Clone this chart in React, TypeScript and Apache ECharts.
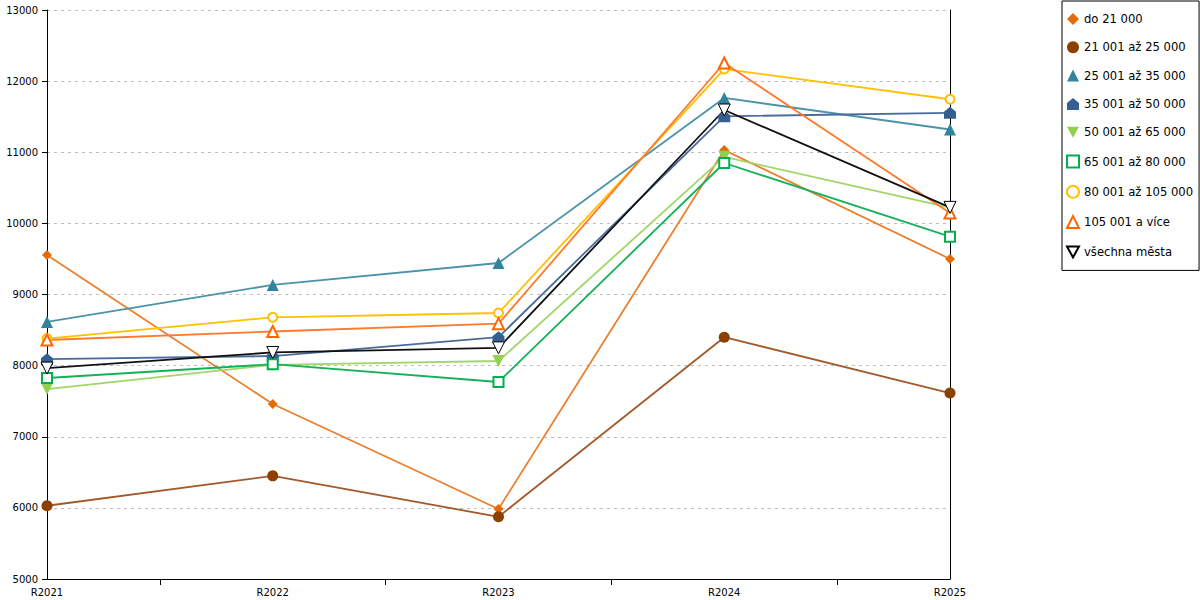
import React, { useEffect, useRef } from "react";
import * as echarts from "echarts";

const categories = ["R2021", "R2022", "R2023", "R2024", "R2025"];
const yTicks = { min: 5000, max: 13000, interval: 1000 };

const do21 = [9555, 7460, 5985, 11030, 9500];
const s21to25 = [6030, 6450, 5875, 8400, 7615];
const s25to35 = [8615, 9134, 9443, 11763, 11320];
const s35to50 = [8090, 8135, 8400, 11505, 11555];
const s50to65 = [7671, 8010, 8065, 10935, 10220];
const s65to80 = [7826, 8020, 7770, 10849, 9813];
const s80to105 = [8380, 8679, 8740, 12170, 11745];
const s105plus = [8360, 8480, 8590, 12255, 10145];
const allCities = [7965, 8185, 8250, 11594, 10225];

const HOUSE = "path://M0,-6 L6,-1 L6,6 L-6,6 L-6,-1 Z";
const INV_TRI = "path://M-6,-5 L6,-5 L0,6 Z";

const seriesDefs = [
  { name: "do 21 000", data: do21, symbol: "diamond", size: 10, line: "#eb7f2d", color: "#e36c09" },
  { name: "21 001 až 25 000", data: s21to25, symbol: "circle", size: 11, line: "#a35a2a", color: "#8b4000" },
  { name: "25 001 až 35 000", data: s25to35, symbol: "triangle", size: 12, line: "#4a93a8", color: "#31849b" },
  { name: "35 001 až 50 000", data: s35to50, symbol: HOUSE, size: 12, line: "#4a6c9c", color: "#355f91" },
  { name: "50 001 až 65 000", data: s50to65, symbol: INV_TRI, size: 12, line: "#a2d66a", color: "#92d050" },
  { name: "65 001 až 80 000", data: s65to80, symbol: "emptyRect", size: 10, line: "#16b05a", color: "#00b050" },
  { name: "80 001 až 105 000", data: s80to105, symbol: "emptyCircle", size: 9, line: "#ffc000", color: "#ffc000" },
  { name: "105 001 a více", data: s105plus, symbol: "emptyTriangle", size: 11, line: "#ff7a2a", color: "#ff6600" },
  { name: "všechna města", data: allCities, symbol: INV_TRI, size: 12, line: "#111111", color: "#ffffff", border: "#000000" },
];

export default function App() {
  const ref = useRef<HTMLDivElement>(null);
  useEffect(() => {
    document.body.style.margin = "0";
    if (!ref.current) return;
    const chart = echarts.init(ref.current, undefined, { renderer: "svg" });
    const axisData: string[] = [];
    categories.forEach((c, i) => {
      axisData.push(c);
      if (i < categories.length - 1) axisData.push("");
    });
    const series = seriesDefs.map((s) => ({
      name: s.name,
      type: "line",
      data: s.data.map((v, i) => [i * 2, v]),
      symbol: s.symbol,
      symbolSize: s.size,
      showAllSymbol: true,
      lineStyle: { color: s.line, width: 1.8 },
      itemStyle: s.border
        ? { color: s.color, borderColor: s.border, borderWidth: 1 }
        : s.symbol.startsWith("empty")
        ? { color: s.color, borderWidth: 1 }
        : { color: s.color, borderWidth: 0 },
      emphasis: { disabled: true },
    }));
    chart.setOption({
      animation: false,
      backgroundColor: "#ffffff",
      textStyle: { fontFamily: "DejaVu Sans" },
      grid: { left: 47, right: 250, top: 10, bottom: 21, containLabel: false },
      legend: {
        orient: "vertical",
        left: 1062,
        top: 1,
        padding: [12, 6, 12, 4],
        itemGap: 16.3,
        itemWidth: 12,
        itemHeight: 12,
        borderColor: "#000",
        borderWidth: 1,
        textStyle: { fontSize: 11.6, color: "#000", fontFamily: "DejaVu Sans" },
        data: seriesDefs.map((s) => ({ name: s.name, icon: s.symbol })),
      },
      xAxis: {
        type: "category",
        data: axisData,
        boundaryGap: false,
        axisLine: { lineStyle: { color: "#000", width: 1 } },
        axisTick: {
          interval: (i: number) => i % 2 === 1,
          length: 6,
          lineStyle: { color: "#000" },
        },
        axisLabel: {
          interval: (i: number) => i % 2 === 0,
          fontSize: 10,
          color: "#000",
          margin: 8,
        },
        splitLine: { show: false },
      },
      yAxis: [
        {
          type: "value",
          min: yTicks.min,
          max: yTicks.max,
          interval: yTicks.interval,
          axisLine: { show: true, lineStyle: { color: "#000" } },
          axisTick: { show: true, length: 5, lineStyle: { color: "#000" } },
          axisLabel: { fontSize: 10, color: "#000", margin: 9, formatter: (v: number) => String(v) },
          splitLine: { show: true, lineStyle: { color: "#bdbdbd", type: [3, 4], width: 1 } },
        },
        {
          type: "value",
          position: "right",
          min: yTicks.min,
          max: yTicks.max,
          interval: yTicks.interval,
          axisLine: { show: true, lineStyle: { color: "#000" } },
          axisTick: { show: false },
          axisLabel: { show: false },
          splitLine: { show: false },
        },
      ],
      series,
    });
    return () => chart.dispose();
  }, []);
  return <div ref={ref} style={{ width: 1200, height: 600 }} />;
}
